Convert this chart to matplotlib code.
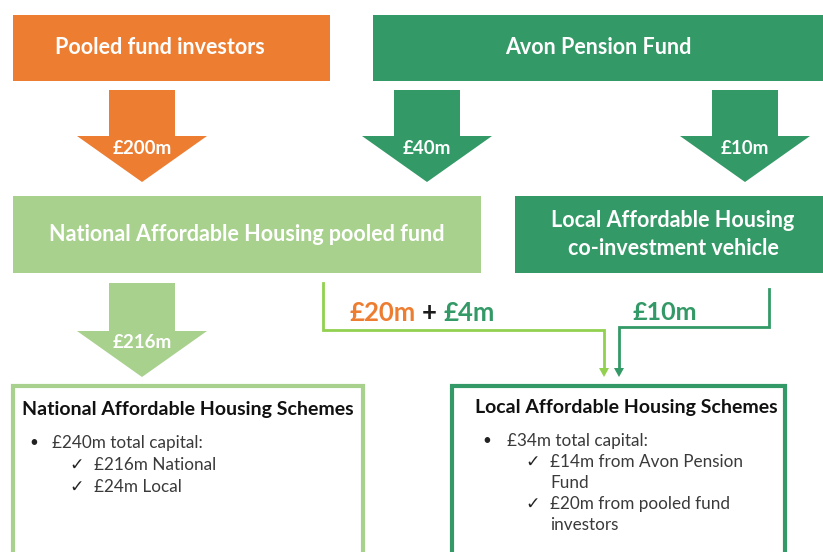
"""Flow diagram: Avon Pension Fund affordable housing allocations."""

import matplotlib
matplotlib.use("Agg")
import matplotlib.pyplot as plt
from matplotlib.patches import Polygon, Rectangle

plt.rcParams["font.family"] = ["Lato", "DejaVu Sans"]

ORANGE = "#ED7D31"
GREEN = "#339966"
LIGHT = "#A9D18E"
LINE_LIGHT = "#92D050"

# sources and vehicles
source_names = ["Pooled fund investors", "Avon Pension Fund"]
vehicle_names = ["National Affordable Housing pooled fund",
                 "Local Affordable Housing\nco-investment vehicle"]
# flows into vehicles
inflow_labels = ["£200m", "£40m", "£10m"]
national_out = "£216m"
local_flow_parts = [("£20m", ORANGE), ("+", "#1a1a1a"), ("£4m", GREEN)]
local_direct = "£10m"

scheme_titles = ["National Affordable Housing Schemes",
                 "Local Affordable Housing Schemes"]
national_total = "£240m total capital:"
national_items = ["£216m National", "£24m Local"]
local_total = "£34m total capital:"
local_items = ["£14m from Avon Pension\nFund", "£20m from pooled fund\ninvestors"]


def box(ax, x0, y0, x1, y1, color, text, tx=None, size=15.5):
    ax.add_patch(Rectangle((x0, y0), x1 - x0, y1 - y0, facecolor=color,
                           edgecolor="none"))
    if tx is None:
        tx = (x0 + x1) / 2
    ax.text(tx, (y0 + y1) / 2, text, ha="center", va="center",
            color="white", fontsize=size, fontweight="bold", linespacing=1.4)


def down_arrow(ax, cx, top, neck, tip, color, label):
    sw, hw = 33, 65
    pts = [(cx - sw, top), (cx + sw, top), (cx + sw, neck), (cx + hw, neck),
           (cx, tip), (cx - hw, neck), (cx - sw, neck)]
    ax.add_patch(Polygon(pts, closed=True, facecolor=color, edgecolor="none"))
    ax.text(cx, neck + 12, label, ha="center", va="center", color="white",
            fontsize=13.5, fontweight="bold")


fig = plt.figure(figsize=(8.23, 5.52), dpi=100)
ax = fig.add_axes([0, 0, 1, 1])
ax.set_xlim(0, 823)
ax.set_ylim(552, 0)
ax.axis("off")

# top row
box(ax, 13, 15, 330, 81, ORANGE, source_names[0], tx=160)
box(ax, 373, 15, 823, 81, GREEN, source_names[1])

down_arrow(ax, 142, 90, 136, 182, ORANGE, inflow_labels[0])
down_arrow(ax, 427, 90, 136, 182, GREEN, inflow_labels[1])
down_arrow(ax, 745, 90, 136, 182, GREEN, inflow_labels[2])

# middle row
box(ax, 13, 196, 481, 273, LIGHT, vehicle_names[0])
box(ax, 515, 196, 823, 273, GREEN, vehicle_names[1], tx=673)

down_arrow(ax, 142, 283, 331, 377, LIGHT, national_out)

# connectors into local schemes
ax.plot([323, 323, 604, 604], [283, 330, 330, 370], color=LINE_LIGHT, lw=2,
        solid_joinstyle="miter")
ax.add_patch(Polygon([(599, 368), (609, 368), (604, 377)], facecolor=LINE_LIGHT))
ax.plot([769, 769, 619, 619], [289, 327, 327, 370], color=GREEN, lw=2,
        solid_joinstyle="miter")
ax.add_patch(Polygon([(614, 368), (624, 368), (619, 377)], facecolor=GREEN))

x = 350
for part, col in local_flow_parts:
    t = ax.text(x, 313, part, ha="left", va="center", color=col,
                fontsize=18.5, fontweight="bold")
    fig.canvas.draw()
    x += t.get_window_extent().width + 6
ax.text(633, 313, local_direct, ha="left", va="center", color=GREEN,
        fontsize=18, fontweight="bold")

# bottom boxes
ax.add_patch(Rectangle((13, 386), 350, 200, facecolor="white", edgecolor=LIGHT, lw=3))
ax.add_patch(Rectangle((452, 386), 333, 200, facecolor="white", edgecolor=GREEN, lw=3))

TXT = "#3a3a3a"
ax.text(22, 409, scheme_titles[0], ha="left", va="center", fontsize=14,
        fontweight="bold", color="#111111")
ax.text(29, 443, "•", ha="left", va="center", fontsize=11, color="#222222")
ax.text(52, 443, national_total, ha="left", va="center", fontsize=12.3, color=TXT)
for i, item in enumerate(national_items):
    y = 465 + i * 22
    ax.text(69, y, "✓", ha="left", va="center", fontsize=12.5, color="#222222")
    ax.text(94, y, item, ha="left", va="center", fontsize=12.3, color=TXT)

ax.text(475, 408, scheme_titles[1], ha="left", va="center", fontsize=14,
        fontweight="bold", color="#111111")
ax.text(482, 441, "•", ha="left", va="center", fontsize=11, color="#222222")
ax.text(507, 441, local_total, ha="left", va="center", fontsize=12.3, color=TXT)
for i, item in enumerate(local_items):
    y = 462 + i * 42
    ax.text(525, y, "✓", ha="left", va="center", fontsize=12.5, color="#222222")
    for j, ln in enumerate(item.split("\n")):
        ax.text(550, y + j * 21, ln, ha="left", va="center", fontsize=12.3, color=TXT)

fig.savefig("out.png", dpi=100)
